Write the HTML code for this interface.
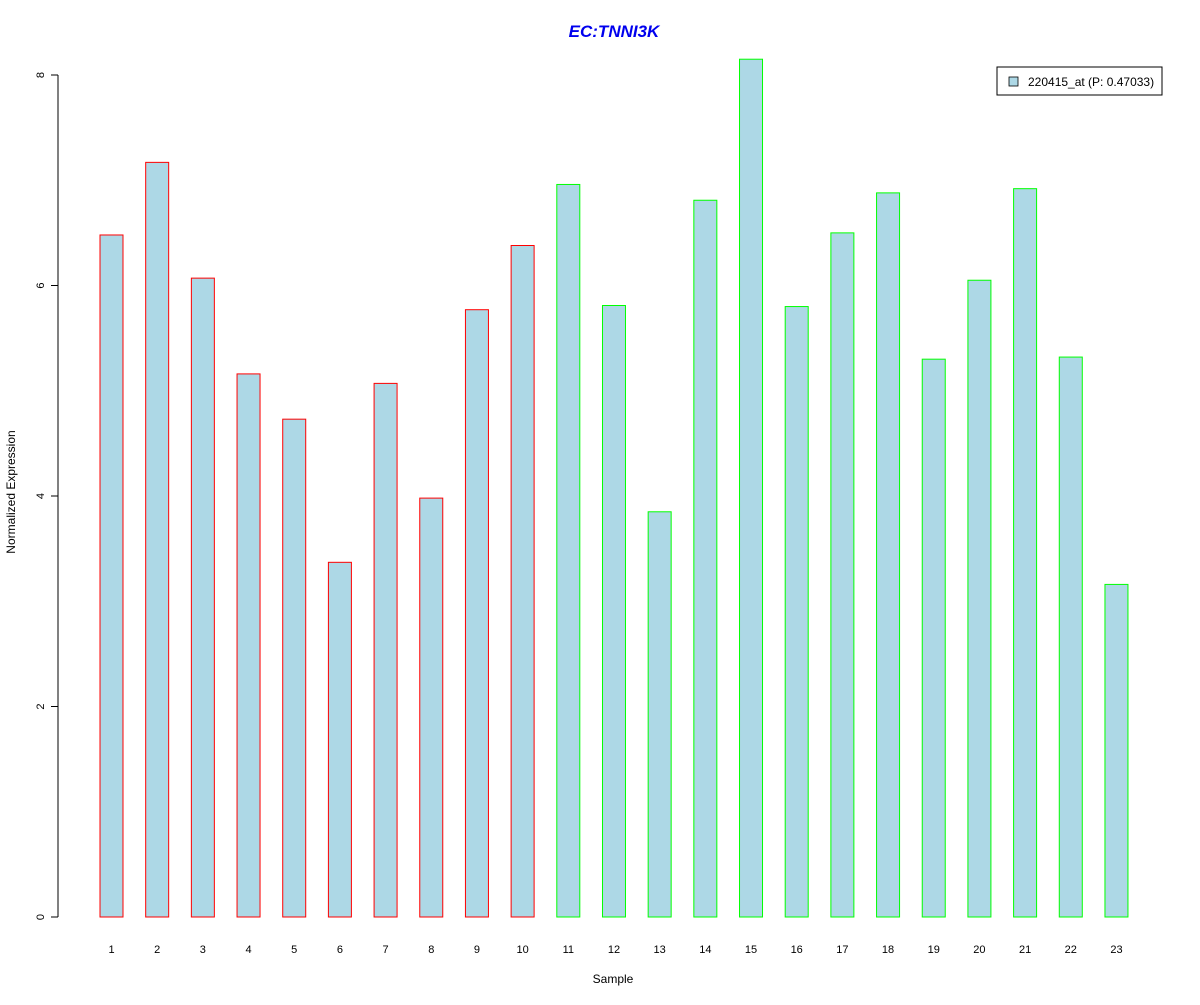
<!DOCTYPE html>
<html><head><meta charset="utf-8"><style>
body{margin:0;background:#fff;font-family:"Liberation Sans",Arial,sans-serif}
svg text{font-family:"Liberation Sans",Arial,sans-serif}
</style></head><body>
<svg id="chart" width="1200" height="1000" xmlns="http://www.w3.org/2000/svg">
<rect width="1200" height="1000" fill="#fff"/>
<text x="614" y="37" text-anchor="middle" font-size="17" font-weight="bold" font-style="italic" fill="#0000ee">EC:TNNI3K</text>
<g id="bars"></g>
<g id="yaxis"></g>
<g id="xlabels"></g>
<text x="613" y="983" text-anchor="middle" font-size="12">Sample</text>
<text transform="translate(15,492) rotate(-90)" text-anchor="middle" font-size="12">Normalized Expression</text>
<g>
<rect x="997" y="67" width="165" height="28" fill="#fff" stroke="#000"/>
<rect x="1009" y="77" width="9" height="9" fill="#add8e6" stroke="#000" stroke-width="0.8"/>
<text x="1028" y="86" font-size="12">220415_at (P: 0.47033)</text>
</g>
</svg>
<script>
const categories=["1","2","3","4","5","6","7","8","9","10","11","12","13","14","15","16","17","18","19","20","21","22","23"];
const values=[6.48,7.17,6.07,5.16,4.73,3.37,5.07,3.98,5.77,6.38,6.96,5.81,3.85,6.81,8.15,5.80,6.50,6.88,5.30,6.05,6.92,5.32,3.16];
const groups=["red","red","red","red","red","red","red","red","red","red","lime","lime","lime","lime","lime","lime","lime","lime","lime","lime","lime","lime","lime"];
const yTicks=[0,2,4,6,8];
const NS="http://www.w3.org/2000/svg";
const y0=917,pxPer=105.25;
function yScale(v){return y0-v*pxPer;}
function xScale(i){return 111.5+i*45.68;}
const bw=23;
const bars=document.getElementById('bars');
values.forEach((v,i)=>{
 const r=document.createElementNS(NS,'rect');
 
 
 r.setAttribute('x',xScale(i)-bw/2);r.setAttribute('y',yScale(v));
 r.setAttribute('width',bw);r.setAttribute('height',y0-yScale(v));
 r.setAttribute('fill','#add8e6');r.setAttribute('stroke',groups[i]==='red'?'#ff0000':'#00ff00');
 bars.appendChild(r);
 const t=document.createElementNS(NS,'text');
 
 
 t.setAttribute('x',xScale(i));t.setAttribute('y',953);t.setAttribute('text-anchor','middle');t.setAttribute('font-size','11');
 t.textContent=categories[i];
 document.getElementById('xlabels').appendChild(t);
});
const ya=document.getElementById('yaxis');
const l=document.createElementNS(NS,'line');


l.setAttribute('x1',58);l.setAttribute('x2',58);l.setAttribute('y1',yScale(yTicks[0]));l.setAttribute('y2',yScale(yTicks[yTicks.length-1]));l.setAttribute('stroke','#000');
ya.appendChild(l);
yTicks.forEach(v=>{
 const tk=document.createElementNS(NS,'line');
 
 
 tk.setAttribute('x1',51);tk.setAttribute('x2',58);tk.setAttribute('y1',yScale(v));tk.setAttribute('y2',yScale(v));tk.setAttribute('stroke','#000');
 ya.appendChild(tk);
 const t=document.createElementNS(NS,'text');
 
 
 t.setAttribute('transform','translate(44,'+yScale(v)+') rotate(-90)');t.setAttribute('text-anchor','middle');t.setAttribute('font-size','11');
 t.textContent=v;
 ya.appendChild(t);
});
</script>
</body></html>
